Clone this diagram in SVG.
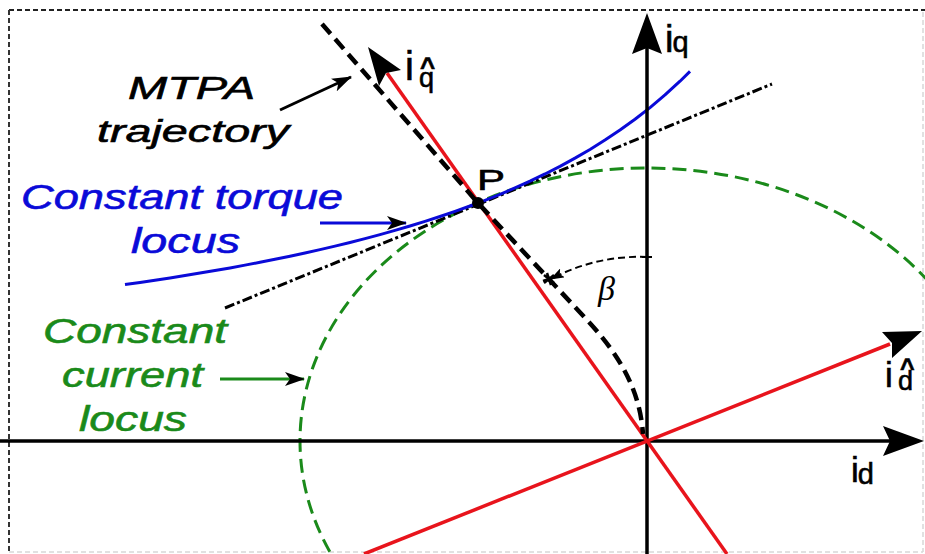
<svg xmlns="http://www.w3.org/2000/svg" width="925" height="554" viewBox="0 0 925 554">
<defs>
<style>
.lbl{font-family:"Liberation Sans",Arial,sans-serif;font-style:italic;stroke-width:0.6;}
.ax{font-family:"Liberation Sans",Arial,sans-serif;fill:#000;stroke:#000;stroke-width:0.6;}
.axis{stroke:#000;stroke-width:3.5;fill:none;}
.red{stroke:#e8141c;stroke-width:3.5;fill:none;}
.head{fill:#000;stroke:none;}
</style>
<marker id="ah" viewBox="0 0 20 14" refX="19" refY="7" markerWidth="20" markerHeight="14" markerUnits="userSpaceOnUse" orient="auto">
<path d="M0,0 L20,7 L0,14 L5,7 z" fill="#000"/>
</marker>
<marker id="ahs" viewBox="0 0 14 10" refX="13" refY="5" markerWidth="14" markerHeight="10" markerUnits="userSpaceOnUse" orient="auto">
<path d="M0,0 L14,5 L0,10 L3,5 z" fill="#000"/>
</marker>
</defs>
<rect width="925" height="554" fill="#fff"/>
<g id="frame">
<path d="M9,10 H925" stroke="#222" stroke-width="2" stroke-dasharray="5,3" fill="none"/>
<path d="M9,10 V554" stroke="#333" stroke-width="2" stroke-dasharray="5,3" fill="none"/>
<path d="M923,12 V552 M9,552 H923" stroke="#d8d8d8" stroke-width="1.5" stroke-dasharray="5,3" fill="none"/>
</g>
<g id="connectors">
<ellipse cx="647" cy="441" rx="347" ry="273" fill="none" stroke="#1a8a1a" stroke-width="3" stroke-dasharray="14,7"/>
<path d="M225,308 L772,84" stroke="#000" stroke-width="3" fill="none" stroke-dasharray="10,3,3,3"/>
<path d="M125,284.59 L140,282.45 L155,280.23 L170,277.94 L185,275.56 L200,273.1 L215,270.55 L230,267.9 L245,265.14 L260,262.28 L275,259.31 L290,256.21 L305,252.99 L320,249.63 L335,246.12 L350,242.45 L365,238.62 L380,234.61 L395,230.41 L410,226.01 L425,221.38 L440,216.52 L455,211.4 L470,206 L485,200.31 L500,194.29 L515,187.92 L530,181.16 L545,173.97 L560,166.32 L575,158.17 L590,149.45 L605,140.1 L620,130.07 L635,119.26 L650,107.59 L665,94.94 L680,81.2 L690,71.35" stroke="#0a0ad8" stroke-width="3" fill="none" stroke-linejoin="round"/>
<path class="axis" d="M0,441 H890"/>
<polygon class="head" points="924,441 883,426 890,441 883,456"/>
<path class="axis" d="M647,554 V48"/>
<polygon class="head" points="647,13 662,54 647,48 632,54"/>
<path class="red" d="M727,554 L387,73"/>
<polygon class="head" points="368,47 401,70 386,73 379,86"/>
<path class="red" d="M364,554 L890,344"/>
<polygon class="head" points="922,331 892,358 892,343 882,332"/>
<path d="M322,24 L478,203 L588,321 C622,358 640,392 643,434" stroke="#000" stroke-width="4.5" fill="none" stroke-dasharray="13,7"/>
<path d="M647,257 A187,187 0 0 0 551,279" stroke="#000" stroke-width="2" fill="none" stroke-dasharray="7,4" marker-end="url(#ahs)"/>
<path d="M642,257 H652" stroke="#000" stroke-width="2"/>
<path d="M543,281 L555,277 M547,273 L551,285 M544,275 L554,283 M544,283 L554,275" stroke="#000" stroke-width="2.5"/>
<path d="M280,110 L351,77" stroke="#000" stroke-width="3" fill="none" marker-end="url(#ah)"/>
<path d="M320,223 L406,223" stroke="#0a0ad8" stroke-width="3" fill="none" marker-end="url(#ah)"/>
<path d="M220,379 L304,379" stroke="#1a8a1a" stroke-width="3" fill="none" marker-end="url(#ah)"/>
</g>
<g id="point-P">
<circle cx="478" cy="203" r="6" fill="#000"/>
<text class="ax" x="477" y="190" font-size="29" textLength="28" lengthAdjust="spacingAndGlyphs">P</text>
</g>
<g id="label-mtpa">
<text class="lbl" x="128" y="99" font-size="31" fill="#000" stroke="#000" textLength="127" lengthAdjust="spacingAndGlyphs">MTPA</text>
<text class="lbl" x="97" y="142" font-size="31" fill="#000" stroke="#000" textLength="192" lengthAdjust="spacingAndGlyphs">trajectory</text>
</g>
<g id="label-torque">
<text class="lbl" x="21" y="209" font-size="35" fill="#0a0ad8" stroke="#0a0ad8" textLength="322" lengthAdjust="spacingAndGlyphs">Constant torque</text>
<text class="lbl" x="131" y="253" font-size="35" fill="#0a0ad8" stroke="#0a0ad8" textLength="109" lengthAdjust="spacingAndGlyphs">locus</text>
</g>
<g id="label-current">
<text class="lbl" x="43" y="343" font-size="35" fill="#1a8a1a" stroke="#1a8a1a" textLength="184" lengthAdjust="spacingAndGlyphs">Constant</text>
<text class="lbl" x="62" y="387" font-size="35" fill="#1a8a1a" stroke="#1a8a1a" textLength="141" lengthAdjust="spacingAndGlyphs">current</text>
<text class="lbl" x="79" y="431" font-size="35" fill="#1a8a1a" stroke="#1a8a1a" textLength="108" lengthAdjust="spacingAndGlyphs">locus</text>
</g>
<g id="label-iq">
<text class="ax" x="665" y="52" font-size="38">i<tspan font-size="29" dx="-1">q</tspan></text>
</g>
<g id="label-iqhat">
<text class="ax" x="405" y="80" font-size="40">i<tspan x="420" y="76" font-size="26" font-weight="bold">^</tspan><tspan x="419" y="87" font-size="27">q</tspan></text>
</g>
<g id="label-idhat">
<text class="ax" x="885" y="387" font-size="35">i<tspan x="900" y="377" font-size="25" font-weight="bold">^</tspan><tspan x="898" y="390" font-size="27">d</tspan></text>
</g>
<g id="label-id">
<text class="ax" x="851" y="482" font-size="35">i<tspan font-size="29" dy="2" dx="-1">d</tspan></text>
</g>
<g id="label-beta">
<text x="598" y="300" font-family="'Liberation Serif','DejaVu Serif',serif" font-style="italic" font-size="34" fill="#000">β</text>
</g>
</svg>
